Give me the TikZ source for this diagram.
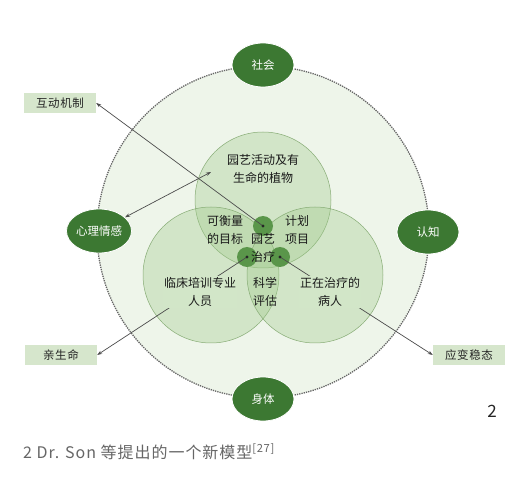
\documentclass[tikz,border=0pt]{standalone}
\usepackage{fontspec}
\setmainfont{Noto Sans CJK SC}
\usetikzlibrary{shapes.geometric,arrows.meta}
\definecolor{bgreen}{RGB}{238,245,234}
\definecolor{cgreen}{RGB}{159,202,138}
\definecolor{lgreen}{RGB}{210,230,200}
\definecolor{dgreen}{RGB}{60,120,50}
\definecolor{mgreen}{RGB}{90,150,74}
\definecolor{boxgreen}{RGB}{214,230,204}
\tikzset{
  facet/.style={ellipse, fill=dgreen, draw=white, line width=0.8pt, minimum width=62pt,
    minimum height=44pt, inner sep=0pt, text=white, font=\fontsize{11.5}{13}\selectfont},
  tag/.style={fill=boxgreen, minimum width=72pt, minimum height=20pt, inner sep=0pt,
    text=black!85, font=\fontsize{11.5}{13}\selectfont\addfontfeature{LetterSpace=5}},
  ring/.style={circle, draw=cgreen!85!black, line width=0.5pt, fill=cgreen, fill opacity=0.35,
    minimum size=136pt, inner sep=0pt},
  hub/.style={circle, fill=mgreen, minimum size=20pt, inner sep=0pt},
  lbl/.style={align=center, inner sep=1pt, text=black!90, font=\fontsize{12}{18.5}\selectfont},
  link/.style={draw=black!70, line width=0.7pt, -{Stealth[length=5pt,width=3.5pt]}}
}
\begin{document}
\begin{tikzpicture}[x=1pt,y=-1pt]
  \useasboundingbox[fill=white] (0,0) rectangle (520,489);
  % outer field
  \node[circle, draw=black!60, densely dotted, line width=1.3pt, fill=bgreen,
    minimum size=332pt, inner sep=0pt] (field) at (263,232) {};
  % three overlapping circles
  \foreach \n/\x/\y in {qtop/263/200, qleft/211/275, qright/315/275}
    \node[ring] (\n) at (\x,\y) {};
  \foreach \n/\x/\y in {htop/263/226, hleft/247/257, hright/280/257}
    \node[hub] (\n) at (\x,\y) {};
  % four facets on the dotted circle
  \node[facet] (shehui) at (263,65) {社会};
  \node[facet] (renzhi) at (428,232) {认知};
  \node[facet] (shenti) at (263,399) {身体};
  \node[facet] (xinli) at (99,231) {心理情感};
  % outer tags
  \node[tag] (hudong) at (60,103) {互动机制};
  \node[tag] (qinsheng) at (61,355) {亲生命};
  \node[tag] (yingbian) at (469,355) {应变稳态};
  \coordinate (mark) at (211,172);
  % connectors
  \draw[link] (htop.center) -- (hudong.east);
  \draw[link] (hleft.center) -- (qinsheng.east);
  \draw[link] (hright.center) -- (yingbian.west);
  \draw[link, {Stealth[length=5pt,width=3.5pt]}-{Stealth[length=5pt,width=3.5pt]}] (xinli) -- (mark);
  \foreach \n in {htop,hleft,hright}
    \fill[black!85] (\n.center) circle (1.7pt);
  % texts in the circles
  \node[lbl] (huodong) at (263,169) {园艺活动及有\\生命的植物};
  \node[lbl] (mubiao) at (225,230) {可衡量\\的目标};
  \node[lbl] (jihua) at (297,230) {计划\\项目};
  \node[lbl] (zhiliao) at (263,248) {园艺\\治疗};
  \node[lbl, fill=lgreen] (renyuan) at (200,292) {临床培训专业\\人员};
  \node[lbl] (pinggu) at (265,292) {科学\\评估};
  \node[lbl, fill=lgreen] (bingren) at (330,292) {正在治疗的\\病人};
  % figure number and caption
  \node[font=\fontsize{17}{17}\selectfont, text=black!85] (num) at (492,411) {2};
  \node[anchor=west, inner sep=0pt, text=black!60,
    font=\fontsize{16}{18}\selectfont\addfontfeature{LetterSpace=6}] (caption) at (23,452)
    {2 Dr. Son 等提出的一个新模型\textsuperscript{[27]}};
\end{tikzpicture}
\end{document}
